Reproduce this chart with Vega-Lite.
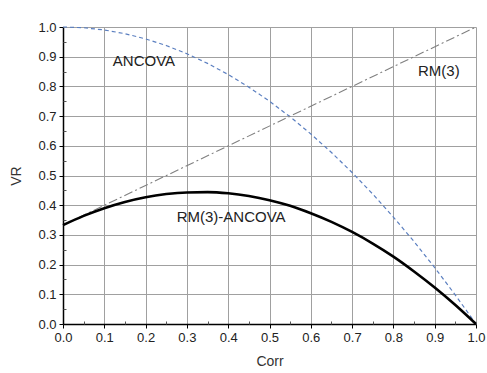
{
  "$schema": "https://vega.github.io/schema/vega-lite/v6.json",
  "width": 413,
  "height": 297,
  "autosize": "none",
  "padding": {"left": 63, "top": 27, "right": 11, "bottom": 49},
  "background": "white",
  "config": {
    "font": "Liberation Sans",
    "view": {"stroke": null},
    "axis": {
      "labelFont": "Liberation Sans", "labelFontSize": 13, "labelColor": "#222222",
      "titleFont": "Liberation Sans", "titleFontSize": 14, "titleFontWeight": "normal", "titleColor": "#333333",
      "domainColor": "#000000", "domainWidth": 1.5, "tickColor": "#000000", "tickSize": 4,
      "gridWidth": 1, "labelFlush": false
    }
  },
  "datasets": {
    "curves": [
      {"corr": 0.0, "ancova": 1.0, "diff": 0.333},
      {"corr": 0.05, "ancova": 0.9975, "diff": 0.364},
      {"corr": 0.1, "ancova": 0.99, "diff": 0.39},
      {"corr": 0.15, "ancova": 0.9775, "diff": 0.411},
      {"corr": 0.2, "ancova": 0.96, "diff": 0.427},
      {"corr": 0.25, "ancova": 0.9375, "diff": 0.4375},
      {"corr": 0.3, "ancova": 0.91, "diff": 0.443},
      {"corr": 0.35, "ancova": 0.8775, "diff": 0.444},
      {"corr": 0.4, "ancova": 0.84, "diff": 0.44},
      {"corr": 0.45, "ancova": 0.7975, "diff": 0.431},
      {"corr": 0.5, "ancova": 0.75, "diff": 0.417},
      {"corr": 0.55, "ancova": 0.6975, "diff": 0.398},
      {"corr": 0.6, "ancova": 0.64, "diff": 0.373},
      {"corr": 0.65, "ancova": 0.5775, "diff": 0.344},
      {"corr": 0.7, "ancova": 0.51, "diff": 0.31},
      {"corr": 0.75, "ancova": 0.4375, "diff": 0.271},
      {"corr": 0.8, "ancova": 0.36, "diff": 0.227},
      {"corr": 0.85, "ancova": 0.2775, "diff": 0.177},
      {"corr": 0.9, "ancova": 0.19, "diff": 0.123},
      {"corr": 0.95, "ancova": 0.0975, "diff": 0.064},
      {"corr": 1.0, "ancova": 0.0, "diff": 0.0}
    ],
    "rm": [
      {"corr": 0.0, "rm": 0.333},
      {"corr": 1.0, "rm": 1.0}
    ],
    "labels": [
      {"corr": 0.196, "vr": 0.887, "text": "ANCOVA"},
      {"corr": 0.91, "vr": 0.853, "text": "RM(3)"},
      {"corr": 0.407, "vr": 0.359, "text": "RM(3)-ANCOVA"}
    ],
    "minor": [
      {"v": 0.0}
    ]
  },
  "resolve": {"axis": {"x": "independent", "y": "independent"}},
  "layer": [
    {
      "data": {"name": "curves"},
      "mark": {"type": "line", "color": "#5b7fc0", "strokeWidth": 1.2, "strokeDash": [4, 3]},
      "encoding": {
        "x": {"field": "corr", "type": "quantitative", "scale": {"domain": [0, 1], "nice": false},
          "axis": {"orient": "bottom", "values": [0, 0.1, 0.2, 0.3, 0.4, 0.5, 0.6, 0.7, 0.8, 0.9, 1.0], "format": ".1f", "title": "Corr", "titlePadding": 10, "labelPadding": 3, "grid": true, "domain": true, "ticks": true,
            "gridColor": {"condition": {"test": "datum.value === 0", "value": "transparent"}, "value": "#a0a0a0"}}},
        "y": {"field": "ancova", "type": "quantitative", "scale": {"domain": [0, 1], "nice": false},
          "axis": {"orient": "left", "values": [0, 0.1, 0.2, 0.3, 0.4, 0.5, 0.6, 0.7, 0.8, 0.9, 1.0], "format": ".1f", "title": "VR", "titlePadding": 14, "labelPadding": 3, "grid": true, "domain": true, "ticks": true,
            "gridColor": {"condition": {"test": "datum.value === 0", "value": "transparent"}, "value": "#a0a0a0"}}}
      }
    },
    {
      "data": {"name": "minor"},
      "mark": {"type": "point", "opacity": 0},
      "encoding": {
        "x": {"field": "v", "type": "quantitative",
          "axis": {"orient": "bottom", "values": [0.05, 0.15, 0.25, 0.35, 0.45, 0.55, 0.65, 0.75, 0.85, 0.95], "labels": false, "domain": false, "grid": false, "tickSize": -3, "tickColor": "#555555", "title": null}},
        "y": {"field": "v", "type": "quantitative",
          "axis": {"orient": "left", "values": [0.05, 0.15, 0.25, 0.35, 0.45, 0.55, 0.65, 0.75, 0.85, 0.95], "labels": false, "domain": false, "grid": false, "tickSize": -3, "tickColor": "#555555", "title": null}}
      }
    },
    {
      "data": {"name": "rm"},
      "mark": {"type": "line", "color": "#808080", "strokeWidth": 1.1, "strokeDash": [9, 3, 2, 3]},
      "encoding": {
        "x": {"field": "corr", "type": "quantitative", "axis": null},
        "y": {"field": "rm", "type": "quantitative", "axis": null}
      }
    },
    {
      "data": {"name": "curves"},
      "mark": {"type": "line", "color": "#000000", "strokeWidth": 2.6, "interpolate": "monotone"},
      "encoding": {
        "x": {"field": "corr", "type": "quantitative", "axis": null},
        "y": {"field": "diff", "type": "quantitative", "axis": null}
      }
    },
    {
      "data": {"name": "labels"},
      "mark": {"type": "text", "fontSize": 15, "color": "#222222", "font": "Liberation Sans"},
      "encoding": {
        "x": {"field": "corr", "type": "quantitative", "axis": null},
        "y": {"field": "vr", "type": "quantitative", "axis": null},
        "text": {"field": "text"}
      }
    }
  ]
}
